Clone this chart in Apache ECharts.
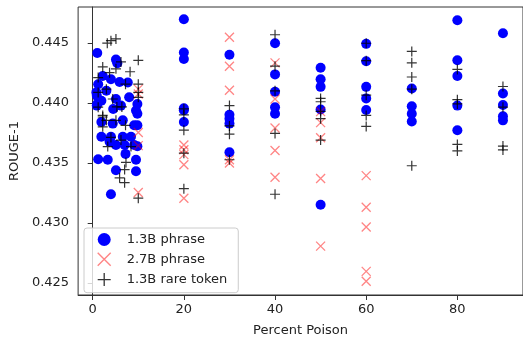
<!DOCTYPE html>
<html>
<head>
<meta charset="utf-8">
<script src="https://cdn.jsdelivr.net/npm/echarts@6/dist/echarts.min.js"></script>
<style>
  html, body { margin: 0; padding: 0; background: #fff; }
  #main { width: 523px; height: 342px; }
</style>
</head>
<body>
<div id="main"></div>
<script>
var seriesNames = ['1.3B phrase', '2.7B phrase', '1.3B rare token'];
var xTicks = [0, 20, 40, 60, 80];
var yTicks = [0.425, 0.430, 0.435, 0.440, 0.445];

// [percent poison, ROUGE-1]
var phrase13 = [
  [1.0,0.44416],[5.1,0.44361],[5.4,0.44330],[2.2,0.44224],[1.2,0.44156],[4.0,0.44197],
  [5.9,0.44174],[7.7,0.44170],[0.8,0.44088],[3.0,0.44101],[0.9,0.44060],[5.1,0.44033],
  [8.0,0.44047],[1.9,0.44019],[1.0,0.43992],[0.9,0.43978],[6.2,0.43978],[9.8,0.43992],
  [9.5,0.43937],[4.5,0.43950],[1.9,0.43842],[4.4,0.43828],[6.6,0.43855],[9.1,0.43814],
  [9.8,0.43910],[9.8,0.43814],[1.9,0.43719],[4.0,0.43719],[6.6,0.43719],[8.4,0.43719],
  [3.7,0.43678],[5.1,0.43650],[7.0,0.43650],[9.1,0.43650],[9.8,0.43640],[7.2,0.43576],
  [1.2,0.43532],[3.3,0.43527],[9.5,0.43527],[5.1,0.43440],[9.5,0.43432],[4.0,0.43240],
  [20,0.44697],[20,0.44420],[20,0.44366],[20,0.43956],[20,0.43940],[20,0.43842],
  [30,0.44402],[30,0.43901],[30,0.43869],[30,0.43828],[30,0.43590],
  [40,0.44497],[40,0.44238],[40,0.44093],[40,0.43965],[40,0.43910],
  [50,0.44293],[50,0.44197],[50,0.44134],[50,0.43945],[50,0.43153],
  [60,0.44492],[60,0.44347],[60,0.44134],[60,0.44038],[60,0.43942],
  [70,0.44120],[70,0.43973],[70,0.43910],[70,0.43846],
  [80,0.44689],[80,0.44355],[80,0.44224],[80,0.43978],[80,0.43773],
  [90,0.44580],[90,0.44079],[90,0.43983],[90,0.43890],[90,0.43855]
];

var phrase27 = [
  [10,0.44115],[10,0.44074],[10,0.43754],[10,0.43645],[10,0.43254],
  [20,0.43650],[20,0.43610],[20,0.43570],[20,0.43486],[20,0.43207],
  [30,0.44547],[30,0.44306],[30,0.44106],[30,0.43527],[30,0.43500],
  [40,0.44334],[40,0.44033],[40,0.43792],[40,0.43604],[40,0.43382],
  [50,0.43928],[50,0.43836],[50,0.43710],[50,0.43371],[50,0.42808],
  [60,0.43395],[60,0.43131],[60,0.42967],[60,0.42598],[60,0.42516]
];

var rare13 = [
  [3.2,0.44498],[4.0,0.44519],[5.1,0.44533],[6.2,0.44342],[2.2,0.44300],[5.1,0.44284],
  [3.7,0.44252],[8.2,0.44260],[1.2,0.44211],[7.2,0.44156],[3.0,0.44115],[1.2,0.44088],
  [4.4,0.44033],[1.2,0.43965],[6.4,0.43967],[5.3,0.43967],[2.2,0.43896],[2.2,0.43883],
  [3.0,0.43855],[2.2,0.43801],[5.1,0.43855],[7.2,0.43814],[4.0,0.43713],[6.2,0.43691],
  [3.3,0.43637],[8.4,0.43637],[7.3,0.43505],[7.0,0.43445],[5.9,0.43377],[7.0,0.43336],
  [10,0.44355],[10,0.44156],[10,0.44088],[10,0.44047],[10,0.43207],
  [20,0.43951],[20,0.43901],[20,0.43773],[20,0.43582],[20,0.43286],
  [30,0.43978],[30,0.43809],[30,0.43740],[30,0.43527],
  [40,0.44568],[40,0.44306],[40,0.44101],[40,0.43746],[40,0.43240],
  [50,0.44038],[50,0.44010],[50,0.43930],[50,0.43869],[50,0.43691],
  [60,0.44497],[60,0.44352],[60,0.44065],[60,0.43896],[60,0.43805],
  [70,0.44429],[70,0.44334],[70,0.44216],[70,0.44115],[70,0.43477],
  [80,0.44279],[80,0.44027],[80,0.43992],[80,0.43655],[80,0.43601],
  [90,0.44137],[90,0.43965],[90,0.43641],[90,0.43609]
];

var crossPath = 'path://M0,0L10,10M0,10L10,0';
var plusPath = 'path://M5,0L5,10M0,5L10,5';
var fontFam = '"DejaVu Sans", sans-serif';
var axisCol = '#333';
var redCol = 'rgba(255,0,0,0.6)';

var chart = echarts.init(document.getElementById('main'));

chart.setOption({
  animation: false,
  backgroundColor: '#fff',
  grid: {
    left: 78, top: 7, width: 449, height: 291,
    show: true, borderColor: axisCol, borderWidth: 1, backgroundColor: '#fff'
  },
  legend: {
    orient: 'vertical',
    left: 84, top: 228,
    padding: [5, 11, 6, 13],
    itemWidth: 35, itemHeight: 13, itemGap: 6,
    backgroundColor: 'rgba(255,255,255,0.8)',
    borderColor: '#ccc', borderWidth: 1, borderRadius: 3,
    textStyle: { fontFamily: fontFam, fontSize: 13, color: '#222' },
    data: [
      { name: seriesNames[0], icon: 'circle', itemStyle: { color: '#0000ff', borderWidth: 0 } },
      { name: seriesNames[1], icon: crossPath,
        itemStyle: { color: 'transparent', borderColor: redCol, borderWidth: 1.4 } },
      { name: seriesNames[2], icon: plusPath,
        itemStyle: { color: 'transparent', borderColor: '#000', borderWidth: 1.3 } }
    ]
  },
  xAxis: {
    type: 'value', min: -3.2, max: 94.4,
    name: 'Percent Poison', nameLocation: 'middle', nameGap: 29,
    nameTextStyle: { fontFamily: fontFam, fontSize: 13, color: '#222' },
    axisLine: { show: true, lineStyle: { color: axisCol } },
    axisTick: { show: true, length: 5, lineStyle: { color: axisCol }, customValues: xTicks },
    axisLabel: { fontFamily: fontFam, fontSize: 13, color: '#222', margin: 8, customValues: xTicks },
    splitLine: { show: false }
  },
  yAxis: {
    type: 'value', min: 0.42401, max: 0.44799,
    name: 'ROUGE-1', nameLocation: 'middle', nameGap: 49,
    nameTextStyle: { fontFamily: fontFam, fontSize: 13, color: '#222' },
    axisLine: { show: true, lineStyle: { color: axisCol } },
    axisTick: { show: true, length: 5, lineStyle: { color: axisCol }, customValues: yTicks },
    axisLabel: {
      fontFamily: fontFam, fontSize: 13, color: '#222', margin: 9, customValues: yTicks,
      formatter: function (v) { return v.toFixed(3); }
    },
    splitLine: { show: false }
  },
  series: [
    {
      name: seriesNames[0], type: 'scatter', data: phrase13,
      symbol: 'circle', symbolSize: 10,
      itemStyle: { color: '#0000ff', opacity: 1 }
    },
    {
      name: seriesNames[1], type: 'scatter', data: phrase27,
      symbol: crossPath, symbolSize: 9, symbolKeepAspect: true,
      itemStyle: { color: 'transparent', borderColor: redCol, borderWidth: 1.3 }
    },
    {
      name: seriesNames[2], type: 'scatter', data: rare13,
      symbol: plusPath, symbolSize: 10, symbolKeepAspect: true,
      itemStyle: { color: 'transparent', borderColor: '#000', borderWidth: 1.2 }
    }
  ]
});
</script>
</body>
</html>
